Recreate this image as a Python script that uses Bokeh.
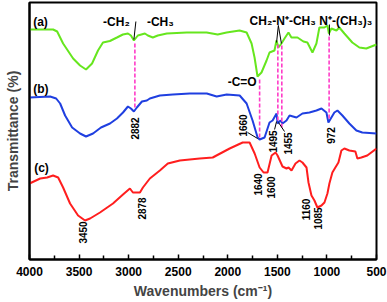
import math
from bokeh.plotting import figure
from bokeh.models import Range1d, FixedTicker
from bokeh.core.properties import value
from bokeh.embed import file_html
from bokeh.resources import INLINE

# ---- spectra (wavenumber cm-1, transmittance arbitrary units) ----
wn_a = [4000, 3762, 3721, 3661, 3560, 3490, 3430, 3369, 3309, 3259, 3189, 3118, 3058, 3007, 2977,
        2947, 2907, 2836, 2806, 2756, 2706, 2615, 2414, 2213, 2102, 2012, 1881, 1810, 1760, 1730,
        1700, 1660, 1609, 1579, 1529, 1509, 1489, 1459, 1428, 1388, 1358, 1297, 1237, 1197, 1146,
        1106, 1076, 1026, 995, 980, 955, 904, 875, 824, 744, 673, 603, 500]
t_a = [230, 230, 228, 216, 201, 194, 190, 196, 209, 217, 218.5, 222, 225, 226, 224,
       219, 224, 226, 224, 222, 224, 226, 227, 227, 225, 227, 229, 227, 216, 202,
       183, 187, 199, 207, 209, 219, 212, 216, 221, 227, 222, 222, 218, 217, 207,
       216, 232, 232, 234, 226, 231, 229, 232, 226, 217, 212, 211, 215]

wn_b = [4000, 3792, 3731, 3691, 3641, 3570, 3490, 3430, 3359, 3279, 3188, 3118, 3057, 3007, 2977,
        2947, 2917, 2866, 2816, 2786, 2685, 2554, 2383, 2212, 2112, 2011, 1880, 1810, 1750, 1699,
        1679, 1629, 1599, 1579, 1548, 1508, 1498, 1468, 1448, 1408, 1377, 1307, 1247, 1176, 1106,
        1055, 1005, 985, 955, 925, 894, 844, 774, 703, 643, 500]
t_b = [162, 163, 161, 156, 144, 132, 126, 123, 126, 132, 136, 141, 147, 153, 151,
       148, 152, 158, 159, 161, 164, 165, 166, 166, 163, 165, 164, 156, 139, 122,
       120, 122, 131, 137, 139, 146, 136, 139, 136, 139, 144, 142, 146, 147, 149,
       151, 147, 137, 142, 147, 149, 144, 136, 129, 127, 126]

wn_c = [4000, 3892, 3822, 3762, 3711, 3661, 3591, 3510, 3440, 3389, 3289, 3158, 3057, 2987, 2957,
        2886, 2856, 2786, 2685, 2605, 2484, 2283, 2152, 1981, 1850, 1780, 1729, 1679, 1639, 1599,
        1558, 1518, 1498, 1448, 1408, 1387, 1357, 1317, 1277, 1247, 1206, 1186, 1156, 1126, 1096,
        1055, 1025, 995, 975, 945, 915, 884, 854, 824, 774, 713, 693, 653, 593, 500]
t_c = [76, 81, 82, 84, 82, 72, 56, 44, 39, 41, 47, 56, 65, 71, 67,
       67, 72, 81, 89, 96, 99, 101, 102, 111, 117, 117, 106, 92, 87, 87,
       104, 107, 104, 93, 91, 92, 89, 96, 99, 97, 92, 77, 64, 59, 52,
       54, 57, 66, 76, 87, 92, 97, 109, 111, 109, 108, 101, 102, 104, 111]

# ---- axis ticks ----
major_ticks = [4000, 3500, 3000, 2500, 2000, 1500, 1000, 500]
minor_ticks = [3750, 3250, 2750, 2250, 1750, 1250, 750]

# ---- dashed guide lines ----
dash_wn = [2937, 1679, 1495, 1455, 978]
dash_top = [217, 181, 216, 214, 224]
dash_bot = [152, 122, 139, 132, 141]

# ---- peak labels ----
peak_text = ["2882", "1660", "1495", "1455", "972", "3450", "2878", "1640", "1600", "1160", "1085"]
peak_wn = [2937, 1850, 1548, 1397, 955, 3460, 2866, 1699, 1568, 1211, 1090]
peak_t = [131, 134, 118, 116, 124, 27, 51, 75, 72, 50, 41]

# ---- curve tags ----
tag_text = ["(a)", "(b)", "(c)"]
tag_wn = [3963, 3963, 3953]
tag_t = [238, 171, 92]

# ---- group labels ----
grp_text = ["-CH\u2082", "-CH\u2083", "CH\u2082-N\u207a-CH\u2083", "N\u207a-(CH\u2083)\u2083"]
grp_wn = [3258, 2816, 1780, 1077]
grp_t = [238, 238, 239, 239]
co_text = ["-C=O"]
co_wn = [1709]
co_t = [178]

# ---- leader lines ----
lead_x0 = [2927, 1490, 1490, 975, 1800, 1528, 1428]
lead_y0 = [238, 234, 234, 235, 127, 130, 128]
lead_x1 = [2947, 1508, 1459, 975, 1699, 1508, 1488]
lead_y1 = [220, 217, 216, 224, 121, 138, 137]

FONT = value("Liberation Sans")

p = figure(width=387, height=302, x_range=Range1d(4000, 500), y_range=Range1d(0, 257),
           output_backend="svg", toolbar_location=None,
           min_border_left=29, min_border_right=11, min_border_top=2, min_border_bottom=43)
p.background_fill_color = "white"
p.border_fill_color = "white"
p.outline_line_color = "black"
p.outline_line_width = 2
p.xgrid.visible = False
p.ygrid.visible = False

p.line(wn_a, t_a, line_color="#66E61E", line_width=2)
p.line(wn_b, t_b, line_color="#1F3FE0", line_width=2)
p.line(wn_c, t_c, line_color="#FF1E1E", line_width=2)

p.segment(x0=dash_wn, y0=dash_bot, x1=dash_wn, y1=dash_top, line_color="#FF3CC8",
          line_width=1.6, line_dash="4 2")
p.segment(x0=lead_x0, y0=lead_y0, x1=lead_x1, y1=lead_y1, line_color="black", line_width=1)

p.text(x=peak_wn, y=peak_t, text=peak_text, angle=math.pi / 2, text_align="center",
       text_baseline="middle", text_font=FONT, text_font_style="bold", text_font_size="10px",
       text_color="black")
p.text(x=tag_wn, y=tag_t, text=tag_text, text_align="left", text_baseline="middle",
       text_font=FONT, text_font_style="bold", text_font_size="12px", text_color="black")
p.text(x=grp_wn, y=grp_t, text=grp_text, text_align="left", text_baseline="middle",
       text_font=FONT, text_font_style="bold", text_font_size="12px", text_color="black")
p.text(x=co_wn, y=co_t, text=co_text, text_align="right", text_baseline="middle",
       text_font=FONT, text_font_style="bold", text_font_size="12px", text_color="black")

xa = p.xaxis[0]
xa.ticker = FixedTicker(ticks=major_ticks, minor_ticks=minor_ticks)
xa.axis_line_width = 2
xa.major_tick_in = 5
xa.major_tick_out = 0
xa.minor_tick_in = 4
xa.minor_tick_out = 0
xa.major_tick_line_width = 1.5
xa.minor_tick_line_width = 1.5
xa.major_label_text_font = "Liberation Sans"
xa.major_label_text_font_style = "bold"
xa.major_label_text_font_size = "12px"
xa.major_label_text_color = "black"
xa.major_label_standoff = 7
xa.axis_label = "Wavenumbers (cm\u207b\u00b9)"
xa.axis_label_text_font = "Liberation Sans"
xa.axis_label_text_font_style = "bold"
xa.axis_label_text_font_size = "14px"
xa.axis_label_standoff = 4

ya = p.yaxis[0]
ya.ticker = FixedTicker(ticks=[])
ya.axis_line_width = 2
ya.major_label_text_font_size = "0px"
ya.axis_label = "Transmittance (%)"
ya.axis_label_text_font = "Liberation Sans"
ya.axis_label_text_font_style = "bold"
ya.axis_label_text_font_size = "14px"
ya.axis_label_standoff = 9

open("out.html", "w").write(file_html(p, INLINE))
